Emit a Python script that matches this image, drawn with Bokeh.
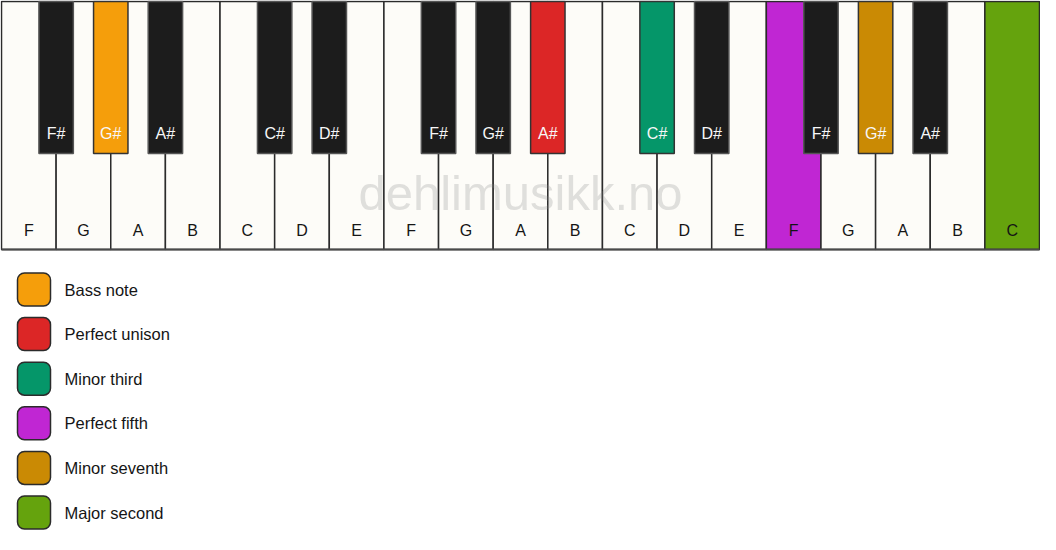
from bokeh.plotting import figure
from bokeh.models import Range1d, ColumnDataSource
from bokeh.core.properties import value
from bokeh.embed import file_html
from bokeh.resources import INLINE

# ---- data ----
white_notes = ["F", "G", "A", "B", "C", "D", "E", "F", "G", "A", "B", "C",
               "D", "E", "F", "G", "A", "B", "C"]
white_roles = {14: "Perfect fifth", 18: "Major second"}
black_notes = ["F#", "G#", "A#", "C#", "D#", "F#", "G#", "A#", "C#", "D#",
               "F#", "G#", "A#"]
black_roles = {1: "Bass note", 7: "Perfect unison", 8: "Minor third",
               11: "Minor seventh"}
legend_labels = ["Bass note", "Perfect unison", "Minor third",
                 "Perfect fifth", "Minor seventh", "Major second"]
legend_colors = ["#F59E0B", "#DC2626", "#059669", "#C026D3", "#CA8A04",
                 "#65A30D"]
watermark = "dehlimusikk.no"

role_color = dict(zip(legend_labels, legend_colors))
FONT = value("Liberation Sans")

W_PX, H_PX = 1040, 534
p = figure(width=W_PX, height=H_PX, output_backend="svg", toolbar_location=None,
           x_range=Range1d(0, W_PX), y_range=Range1d(H_PX, 0),
           min_border=0, outline_line_color=None, background_fill_color="white",
           border_fill_color="white")
p.axis.visible = False
p.grid.visible = False

# ---- white keys ----
kb_left, kb_right, kb_top, kb_bottom = 1, W_PX - 1, 1, 249
kw = (kb_right - kb_left) / len(white_notes)
wl = [kb_left + i * kw for i in range(len(white_notes))]
wsrc = ColumnDataSource(dict(
    left=wl, right=[x + kw for x in wl],
    top=[kb_top] * len(wl), bottom=[kb_bottom] * len(wl),
    color=[role_color.get(white_roles.get(i), "#FDFCF8") for i in range(len(wl))],
    xc=[x + kw / 2 for x in wl], yc=[230] * len(wl), name=white_notes,
))
p.quad(left="left", right="right", top="top", bottom="bottom", source=wsrc,
       fill_color="color", line_color="#2b2b2b", line_width=1.5)
p.text(x="xc", y="yc", text="name", source=wsrc, text_font=FONT,
       text_font_size="16px", text_align="center", text_baseline="middle",
       text_color="#151515")

# ---- black keys (follow F, G, A, C, D) ----
bpos = [i + 1 for i, n in enumerate(white_notes[:-1]) if n in ("F", "G", "A", "C", "D")]
bw = kw * 0.63
bsrc = ColumnDataSource(dict(
    left=[kb_left + b * kw - bw / 2 for b in bpos],
    right=[kb_left + b * kw + bw / 2 for b in bpos],
    top=[kb_top] * len(bpos), bottom=[153] * len(bpos),
    color=[role_color.get(black_roles.get(i), "#1C1C1C") for i in range(len(bpos))],
    lcolor=["#333333" if i in black_roles else "#555555" for i in range(len(bpos))],
    xc=[kb_left + b * kw for b in bpos], yc=[133] * len(bpos), name=black_notes,
))
p.quad(left="left", right="right", top="top", bottom="bottom", source=bsrc,
       fill_color="color", line_color="lcolor", line_width=1.5)
p.text(x="xc", y="yc", text="name", source=bsrc, text_font=FONT,
       text_font_size="16px", text_align="center", text_baseline="middle",
       text_color="#F7F7F7")

# bottom edge
p.segment(x0=[kb_left], y0=[kb_bottom], x1=[kb_right], y1=[kb_bottom],
          line_color="#4a4a4a", line_width=2)

# ---- watermark ----
p.text(x=[W_PX / 2], y=[192], text=[watermark], text_font=FONT,
       text_font_size="49px", text_align="center", text_baseline="middle",
       text_color="#888888", text_alpha=0.25)

# ---- legend ----
ly = [289 + k * 44.6 for k in range(len(legend_labels))]
lsrc = ColumnDataSource(dict(
    left=[17] * len(ly), right=[50] * len(ly),
    top=[y - 16.5 for y in ly], bottom=[y + 16.5 for y in ly],
    color=legend_colors, tx=[64] * len(ly), ty=ly, label=legend_labels,
))
p.quad(left="left", right="right", top="top", bottom="bottom", source=lsrc,
       fill_color="color", line_color="#2b2b2b", line_width=1.5, border_radius=7)
p.text(x="tx", y="ty", text="label", source=lsrc, text_font=FONT,
       text_font_size="16.5px", text_align="left", text_baseline="middle",
       text_color="#151515")

open("out.html", "w").write(file_html(p, INLINE))
